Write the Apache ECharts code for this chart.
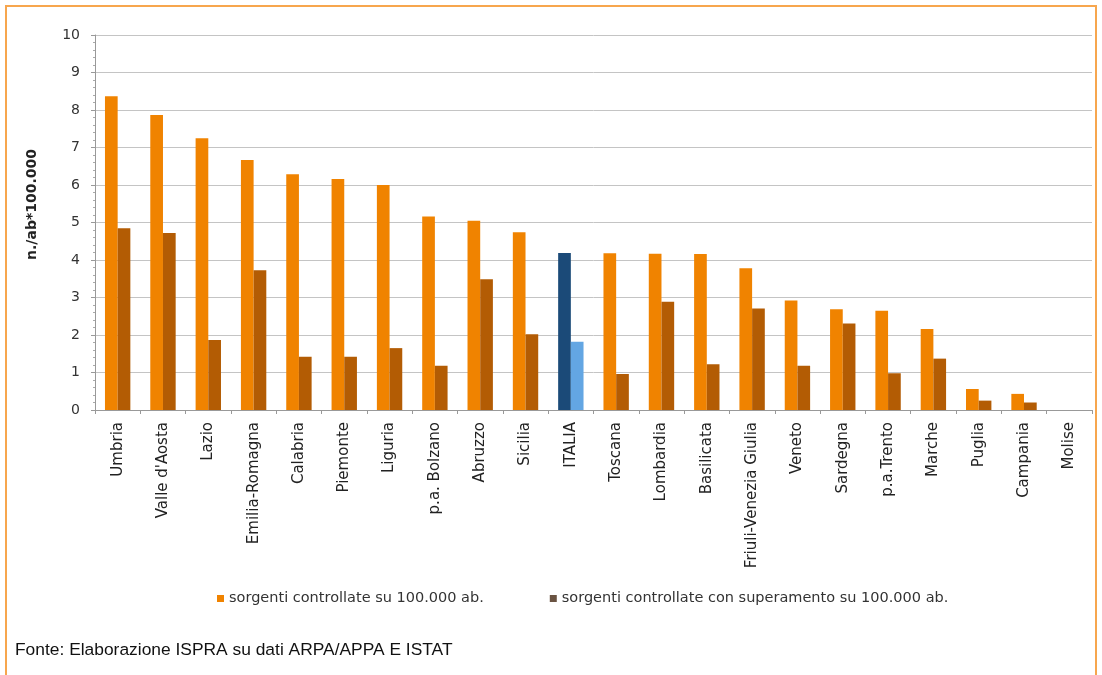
<!DOCTYPE html>
<html>
<head>
<meta charset="utf-8">
<script src="https://cdn.jsdelivr.net/npm/echarts@6/dist/echarts.min.js"></script>
<style>
html,body{margin:0;padding:0;background:#fff;}
#frame{position:absolute;left:5px;top:5px;width:1092px;height:680px;border:2px solid #F7A64E;border-bottom:none;box-sizing:border-box;}
#chart{position:absolute;left:0;top:0;width:1102px;height:675px;}
</style>
</head>
<body>
<div id="frame"></div>
<div id="chart"></div>
<script>
const categories = ["Umbria","Valle d'Aosta","Lazio","Emilia-Romagna","Calabria","Piemonte","Liguria","p.a. Bolzano","Abruzzo","Sicilia","ITALIA","Toscana","Lombardia","Basilicata","Friuli-Venezia Giulia","Veneto","Sardegna","p.a.Trento","Marche","Puglia","Campania","Molise"];
const controllate = [8.37,7.87,7.25,6.67,6.29,6.16,6.0,5.16,5.05,4.74,4.19,4.18,4.17,4.16,3.78,2.92,2.69,2.65,2.16,0.56,0.43,0];
const superamento = [4.85,4.72,1.87,3.73,1.42,1.42,1.65,1.18,3.49,2.02,1.82,0.96,2.89,1.22,2.71,1.18,2.31,0.98,1.37,0.25,0.2,0];
const yTicks = [0,1,2,3,4,5,6,7,8,9,10];
const seriesNames = ["sorgenti controllate su 100.000 ab.","sorgenti controllate con superamento su 100.000 ab."];
const highlight = "ITALIA";

const c1 = '#F08300', c2 = '#B35C04', h1 = '#1B4A78', h2 = '#63A6E3';
const FONT = 'DejaVu Sans, Liberation Sans, sans-serif';
function build(vals, hl){
  return vals.map((v,i)=> categories[i]===highlight ? {value:v,itemStyle:{color:hl}} : v);
}
const chart = echarts.init(document.getElementById('chart'));
chart.setOption({
  animation:false,
  backgroundColor:'transparent',
  grid:{left:95,right:10,top:35,bottom:265,containLabel:false},
  legend:{
    bottom:64,left:212,itemWidth:7,itemHeight:7,itemGap:66,icon:'rect',
    textStyle:{fontFamily:FONT,fontSize:14.5,color:'#333'},
    data:[{name:seriesNames[0],itemStyle:{color:c1}},{name:seriesNames[1],itemStyle:{color:'#6a5342'}}]
  },
  xAxis:{
    type:'category',data:categories,
    axisLine:{lineStyle:{color:'#999',width:1}},
    axisTick:{show:true,alignWithLabel:false,length:4,lineStyle:{color:'#999'}},
    axisLabel:{rotate:90,interval:0,fontFamily:FONT,fontSize:15,color:'#222',margin:12}
  },
  yAxis:{
    type:'value',min:0,max:10,interval:1,
    axisLine:{show:true,lineStyle:{color:'#999'}},
    axisTick:{show:true,length:4,lineStyle:{color:'#999'}},
    minorTick:{show:true,splitNumber:5,length:2,lineStyle:{color:'#aaa'}},
    splitLine:{lineStyle:{color:'#c4c4c4',width:1}},
    axisLabel:{fontFamily:FONT,fontSize:14,color:'#333',margin:15,
      formatter:v=>yTicks.includes(v)?String(v):''}
  },
  graphic:[
    {type:'text',left:25,top:149,rotation:Math.PI/2,
     style:{text:'n./ab*100.000',fontFamily:FONT,fontSize:14,fontWeight:'bold',fill:'#222'}},
    {type:'text',left:15,top:642,
     style:{text:'Fonte: Elaborazione ISPRA su dati ARPA/APPA E ISTAT',fontFamily:'Liberation Sans, Arial, sans-serif',fontSize:17.4,fill:'#111'}}
  ],
  series:[
    {name:seriesNames[0],type:'bar',data:build(controllate,h1),itemStyle:{color:c1},barGap:'0%',barCategoryGap:'44%'},
    {name:seriesNames[1],type:'bar',data:build(superamento,h2),itemStyle:{color:c2},barGap:'0%',barCategoryGap:'44%'}
  ]
});
</script>
</body>
</html>
